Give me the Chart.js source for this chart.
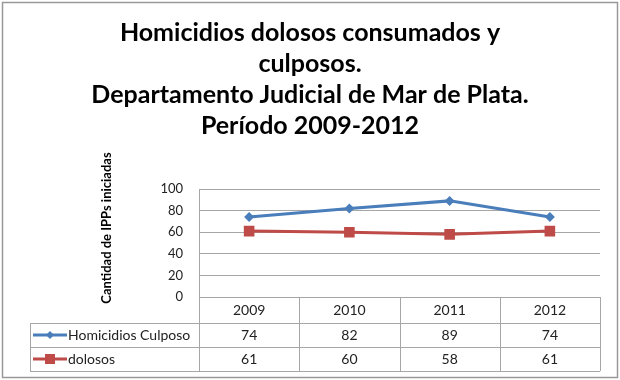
<!DOCTYPE html>
<html>
<head>
<meta charset="utf-8">
<script src="https://cdn.jsdelivr.net/npm/chart.js@4.4.1/dist/chart.umd.min.js"></script>
<style>
    body { margin: 0; background: #fff; }
    .chart_box { width: 620px; height: 380px; }
</style>
</head>
<body>
<div class="chart_box"><canvas id="line-chart"></canvas></div>
<script>
// data
const years = ["2009", "2010", "2011", "2012"];
const culposos = [74, 82, 89, 74];
const dolosos = [61, 60, 58, 61];
const seriesNames = ["Homicidios Culposo", "dolosos"];
const seriesColors = ["#4a7ebb", "#be4b48"];
const yTicks = [0, 20, 40, 60, 80, 100];
const titleLines = [
    "Homicidios dolosos consumados y",
    "culposos.",
    "Departamento Judicial de Mar de Plata.",
    "Período 2009-2012",
];
const yTitle = "Cantidad de IPPs iniciadas";

const font = "Lato, 'Open Sans', sans-serif";
const lineGray = "#a6a6a6";

// draws the data table under the plot, plus frame and y title
const dataTable = {
    id: "dataTable",
    afterDraw(chart) {
        const ctx = chart.ctx;
        const area = chart.chartArea;
        const xs = chart.scales.x;
        const half = (xs.getPixelForValue(1) - xs.getPixelForValue(0)) / 2;
        const tableLeft = 30;
        const rows = [area.bottom, area.bottom + 26, area.bottom + 50, area.bottom + 74];
        const rowData = [culposos, dolosos];

        ctx.save();
        ctx.strokeStyle = lineGray;
        ctx.lineWidth = 1;
        ctx.beginPath();
        // horizontal lines
        ctx.moveTo(area.left, rows[0] + 0.5);
        ctx.lineTo(area.right, rows[0] + 0.5);
        for (let r = 1; r < rows.length; r++) {
            ctx.moveTo(tableLeft, Math.round(rows[r]) + 0.5);
            ctx.lineTo(area.right, Math.round(rows[r]) + 0.5);
        }
        // vertical lines
        ctx.moveTo(tableLeft + 0.5, rows[1]);
        ctx.lineTo(tableLeft + 0.5, rows[3]);
        for (let i = 0; i <= years.length; i++) {
            const px = i < years.length ? xs.getPixelForValue(i) - half : area.right;
            ctx.moveTo(Math.round(px) + 0.5, rows[0]);
            ctx.lineTo(Math.round(px) + 0.5, rows[3]);
        }
        ctx.stroke();

        ctx.fillStyle = "#222";
        ctx.font = "14px " + font;
        ctx.textAlign = "center";
        ctx.textBaseline = "middle";
        years.forEach((yr, i) => {
            const cx = xs.getPixelForValue(i);
            ctx.fillText(yr, cx, (rows[0] + rows[1]) / 2);
            rowData.forEach((vals, r) => {
                ctx.fillText(String(vals[i]), cx, (rows[r + 1] + rows[r + 2]) / 2);
            });
        });

        // legend keys inside the table
        seriesNames.forEach((name, r) => {
            const cy = (rows[r + 1] + rows[r + 2]) / 2;
            ctx.strokeStyle = seriesColors[r];
            ctx.lineWidth = 3;
            ctx.beginPath();
            ctx.moveTo(33, cy);
            ctx.lineTo(67, cy);
            ctx.stroke();
            ctx.fillStyle = seriesColors[r];
            ctx.beginPath();
            if (r === 0) {
                ctx.moveTo(50, cy - 4);
                ctx.lineTo(54, cy);
                ctx.lineTo(50, cy + 4);
                ctx.lineTo(46, cy);
                ctx.closePath();
            } else {
                ctx.rect(45, cy - 5, 10, 10);
            }
            ctx.fill();
            ctx.fillStyle = "#222";
            ctx.textAlign = "left";
            ctx.fillText(name, 68, cy);
        });

        // y axis title
        ctx.save();
        ctx.translate(107, 228);
        ctx.rotate(-Math.PI / 2);
        ctx.font = "bold 13px " + font;
        ctx.fillStyle = "#000";
        ctx.textAlign = "center";
        ctx.fillText(yTitle, 0, 0);
        ctx.restore();

        // outer border
        ctx.strokeStyle = "#999";
        ctx.lineWidth = 1.5;
        ctx.strokeRect(2.5, 2.5, 615, 375);
        ctx.restore();
    },
};

new Chart(document.getElementById("line-chart"), {
    type: "line",
    data: {
        labels: years,
        datasets: [
            {
                label: seriesNames[0],
                data: culposos,
                borderColor: seriesColors[0],
                backgroundColor: seriesColors[0],
                borderWidth: 3,
                pointStyle: "rectRot",
                pointRadius: 5,
                pointBorderWidth: 0,
                tension: 0,
            },
            {
                label: seriesNames[1],
                data: dolosos,
                borderColor: seriesColors[1],
                backgroundColor: seriesColors[1],
                borderWidth: 3,
                pointStyle: "rect",
                pointRadius: 7.5,
                pointBorderWidth: 0,
                tension: 0,
            },
        ],
    },
    options: {
        responsive: true,
        maintainAspectRatio: false,
        animation: false,
        layout: { padding: { left: 20, right: 20, top: 0, bottom: 83 } },
        plugins: {
            legend: { display: false },
            tooltip: { enabled: false },
            title: {
                display: true,
                text: titleLines,
                color: "#000",
                font: { family: font, size: 25, weight: "bold", lineHeight: 1.24 },
                padding: { top: 17, bottom: 48 },
            },
        },
        scales: {
            x: {
                display: false,
                offset: true,
            },
            y: {
                min: 0,
                max: 100,
                afterBuildTicks(scale) {
                    scale.ticks = yTicks.map((v) => ({ value: v }));
                },
                afterFit(scale) {
                    scale.width = 179;
                },
                grid: { color: lineGray, drawTicks: false },
                border: { display: true, color: lineGray },
                ticks: {
                    padding: 16,
                    color: "#222",
                    font: { family: font, size: 13 },
                },
            },
        },
    },
    plugins: [dataTable],
});
</script>
</body>
</html>
